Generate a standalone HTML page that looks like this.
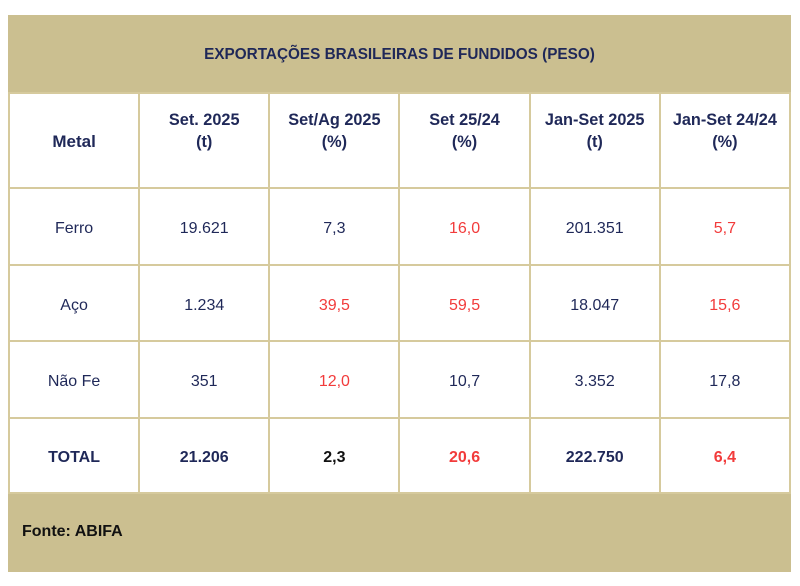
<!DOCTYPE html>
<html>
<head>
<meta charset="utf-8">
<style>
  html,body{margin:0;padding:0;background:#fff;}
  body{width:800px;height:586px;position:relative;overflow:hidden;font-family:"Liberation Sans",Arial,sans-serif;}
  .frame{position:absolute;left:8px;top:15px;width:783px;height:557px;background:#cbbf90;}
  .title{position:absolute;left:0;top:1px;width:783px;height:77px;line-height:77px;text-align:center;font-weight:bold;font-size:15.3px;color:#1f2858;}
  .grid{position:absolute;left:0;top:77px;width:779px;padding:2px;background:#d6ca9d;display:grid;
    grid-template-columns:repeat(6,128.17px);grid-template-rows:93px 74.5px 74.5px 74.5px 73.5px;gap:2px;}
  .c{background:#fff;display:flex;align-items:center;justify-content:center;text-align:center;font-size:16px;color:#1f2858;line-height:22.5px;padding-top:6px;box-sizing:border-box;}
  .h{font-weight:bold;font-size:16.3px;padding-top:0;padding-bottom:19px;}
  .m{font-weight:bold;font-size:17px;padding-top:4px;padding-bottom:0;}
  .b{font-weight:bold;}
  .r{color:#f23b3b;}
  .k{color:#111;}
  .foot{position:absolute;left:14px;top:507px;font-weight:bold;font-size:16px;color:#111;line-height:20px;}
</style>
</head>
<body>
<div class="frame">
  <div class="title">EXPORTAÇÕES BRASILEIRAS DE FUNDIDOS (PESO)</div>
  <div class="grid">
    <div class="c m">Metal</div>
    <div class="c h">Set. 2025<br>(t)</div>
    <div class="c h">Set/Ag 2025<br>(%)</div>
    <div class="c h">Set 25/24<br>(%)</div>
    <div class="c h">Jan-Set 2025<br>(t)</div>
    <div class="c h">Jan-Set 24/24<br>(%)</div>

    <div class="c">Ferro</div>
    <div class="c">19.621</div>
    <div class="c">7,3</div>
    <div class="c r">16,0</div>
    <div class="c">201.351</div>
    <div class="c r">5,7</div>

    <div class="c">Aço</div>
    <div class="c">1.234</div>
    <div class="c r">39,5</div>
    <div class="c r">59,5</div>
    <div class="c">18.047</div>
    <div class="c r">15,6</div>

    <div class="c">Não Fe</div>
    <div class="c">351</div>
    <div class="c r">12,0</div>
    <div class="c">10,7</div>
    <div class="c">3.352</div>
    <div class="c">17,8</div>

    <div class="c b">TOTAL</div>
    <div class="c b">21.206</div>
    <div class="c b k">2,3</div>
    <div class="c b r">20,6</div>
    <div class="c b">222.750</div>
    <div class="c b r">6,4</div>
  </div>
  <div class="foot">Fonte: ABIFA</div>
</div>
</body>
</html>
